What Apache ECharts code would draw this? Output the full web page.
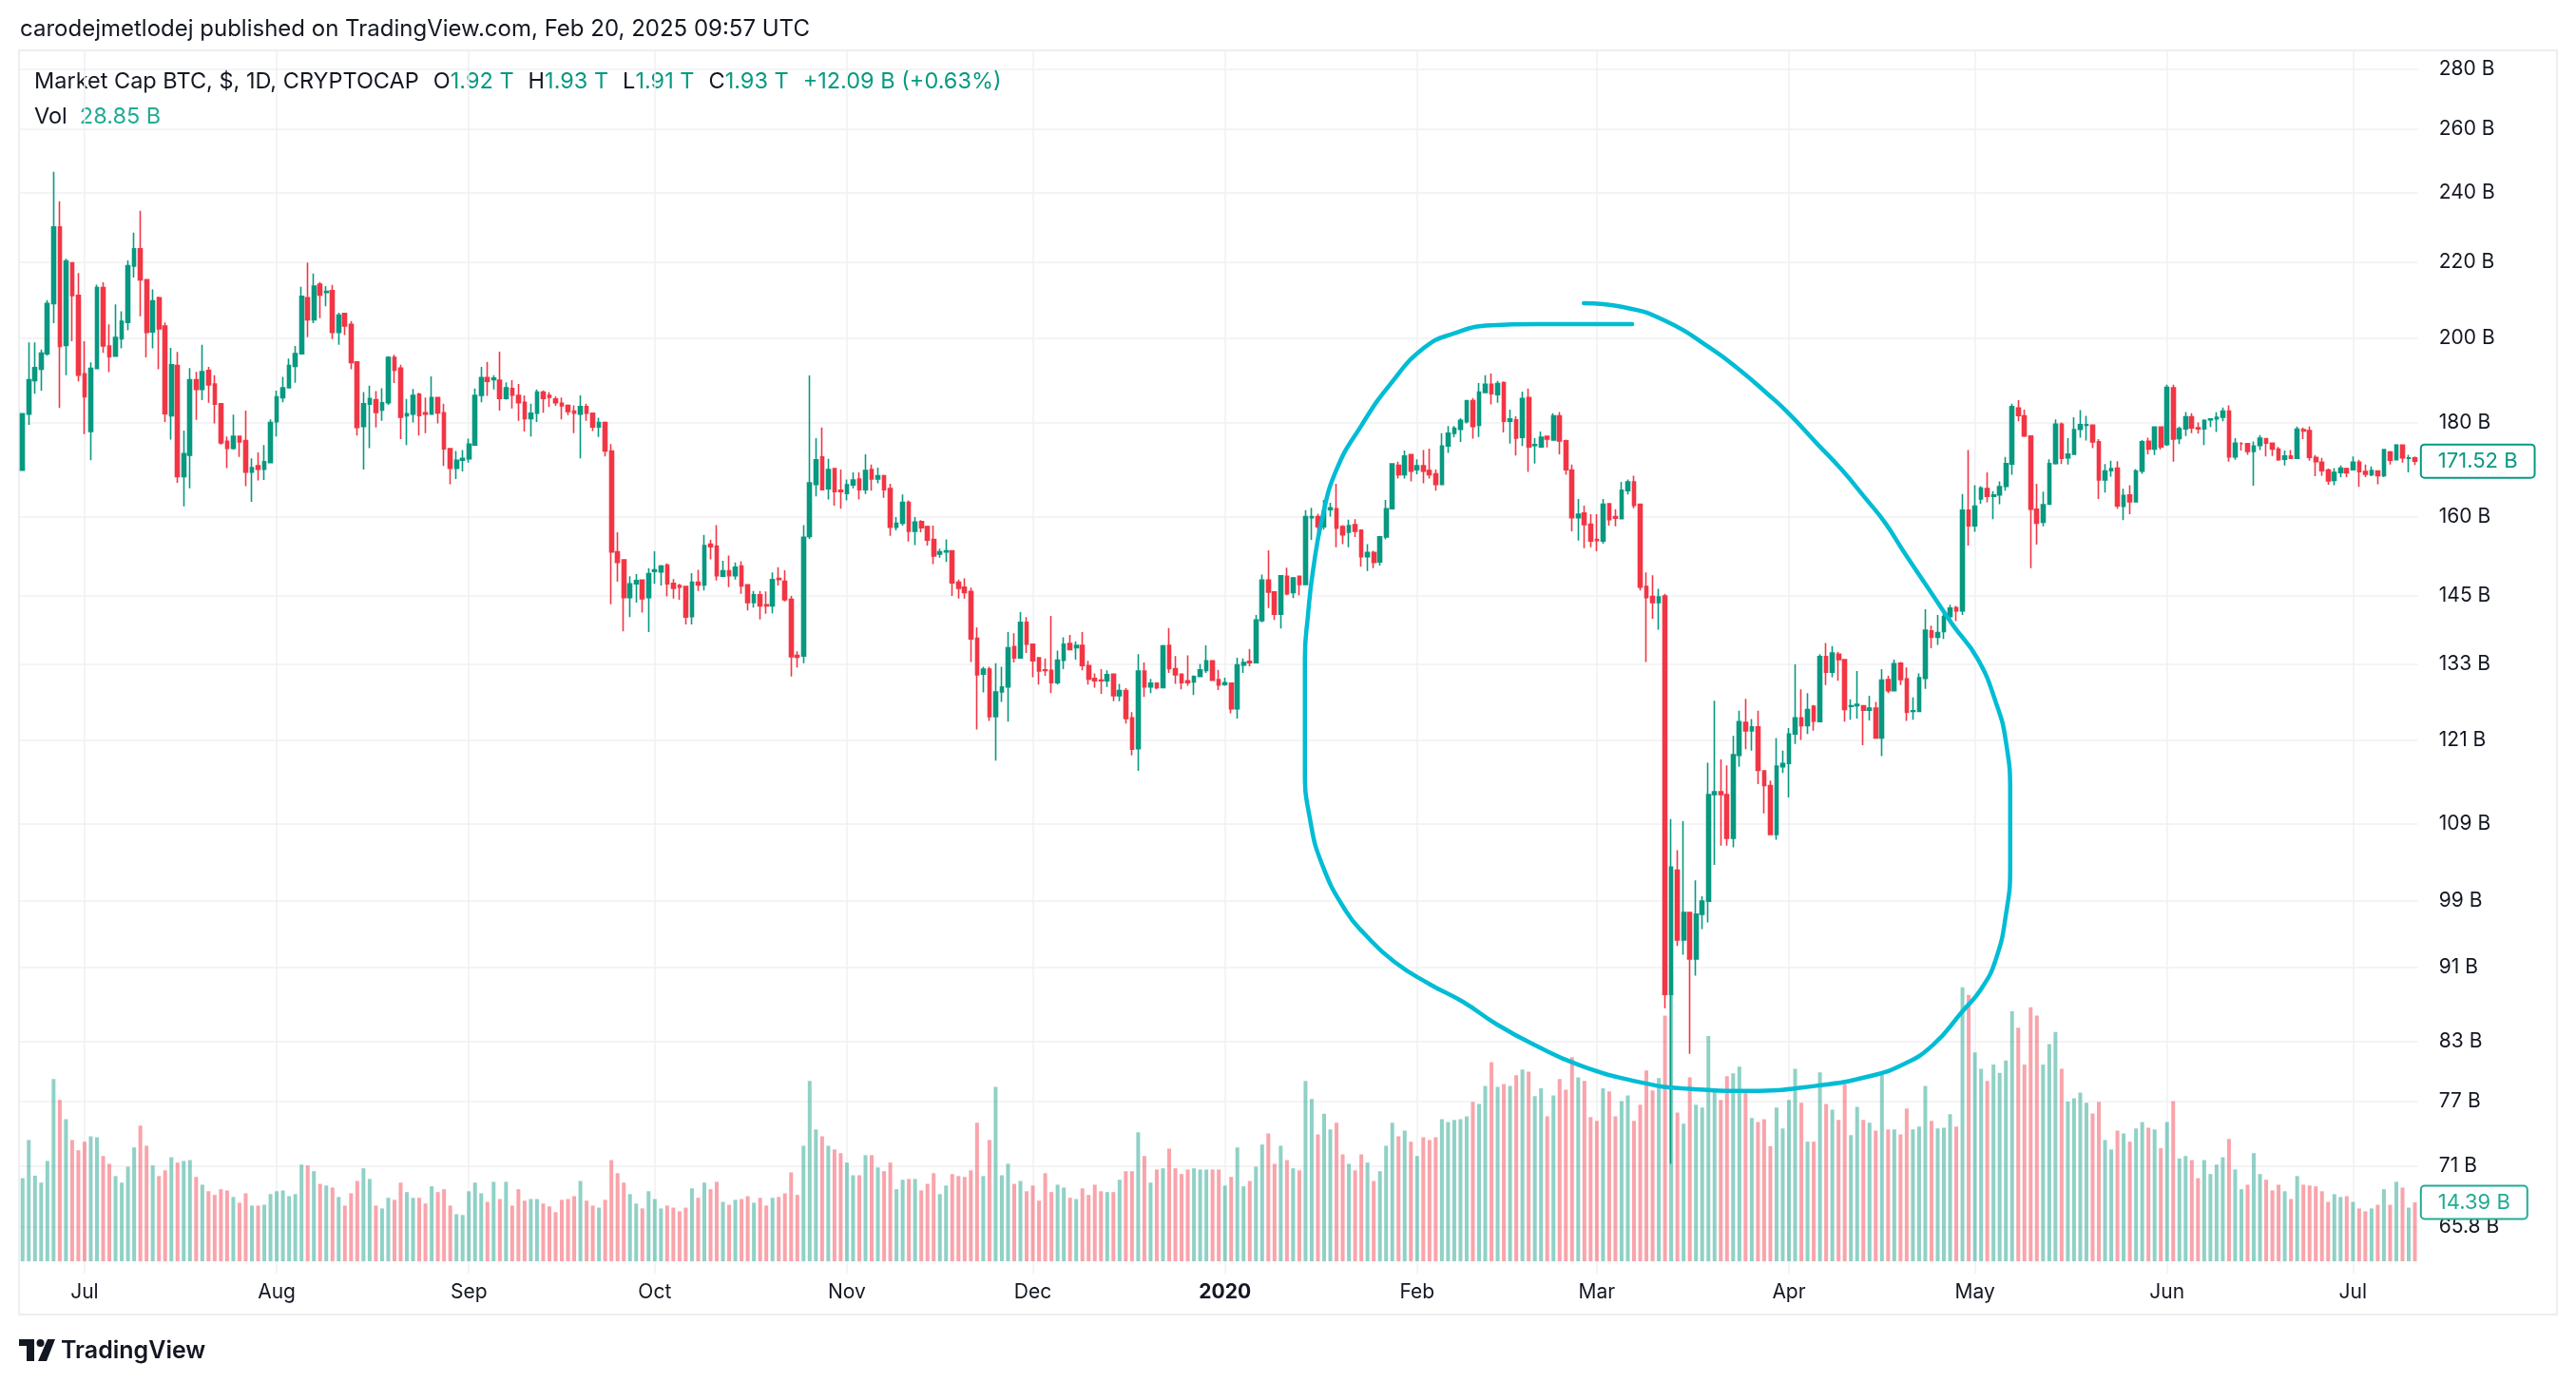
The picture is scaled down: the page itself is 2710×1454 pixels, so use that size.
<!DOCTYPE html>
<html>
<head>
<meta charset="utf-8">
<title>Market Cap BTC, 1D, CRYPTOCAP</title>
<script src="https://cdn.jsdelivr.net/npm/echarts@6/dist/echarts.min.js"></script>
<style>
  html, body { margin: 0; padding: 0; background: #ffffff; }
  #chart { width: 2710px; height: 1454px; }
</style>
</head>
<body>
<div id="chart"></div>
<script>
// daily candles, market cap in billions USD, first bar is 2019-06-21
var opens = [
  169.6, 181.9, 189.7, 192.4, 196.2, 208.9, 229.9, 198.2, 219.8, 211.0,
  191.3, 178.0, 192.6, 213.1, 198.1, 195.6, 199.9, 204.0, 218.9, 223.7,
  215.2, 201.6, 210.4, 203.1, 181.5, 193.3, 168.2, 172.8, 189.9, 187.6,
  192.1, 188.9, 184.3, 175.8, 174.3, 176.9, 176.0, 169.2, 170.5, 169.8,
  171.2, 180.2, 185.7, 188.0, 193.1, 196.2, 210.4, 204.7, 214.0, 211.8,
  212.3, 201.5, 206.3, 203.5, 194.2, 179.1, 184.2, 185.2, 182.8, 184.5,
  195.3, 192.7, 181.5, 181.9, 186.5, 182.2, 181.9, 185.7, 182.2, 174.2,
  170.0, 171.7, 172.0, 175.0, 186.2, 190.4, 189.9, 189.8, 185.5, 187.8,
  186.2, 184.6, 180.9, 182.1, 187.0, 186.2, 185.4, 184.4, 183.9, 182.6,
  181.9, 183.6, 182.1, 179.0, 180.0, 173.7, 153.1, 151.6, 144.6, 147.1,
  147.8, 144.6, 149.4, 149.3, 150.6, 147.2, 146.8, 146.6, 141.2, 147.4,
  146.9, 154.6, 154.2, 148.5, 149.5, 148.6, 150.4, 146.9, 143.7, 145.1,
  143.3, 143.1, 148.1, 147.6, 144.3, 134.5, 134.4, 156.1, 166.6, 172.4,
  165.7, 169.9, 165.4, 164.7, 166.5, 167.7, 165.5, 169.7, 167.7, 168.4,
  165.7, 157.9, 158.7, 162.9, 157.1, 159.0, 158.0, 155.5, 152.7, 153.1,
  153.3, 147.4, 146.5, 145.7, 137.4, 131.4, 132.2, 124.6, 128.5, 129.3,
  136.0, 134.1, 140.2, 136.4, 134.1, 132.1, 132.0, 130.0, 133.7, 136.5,
  135.8, 136.2, 132.8, 130.7, 130.4, 130.3, 131.4, 127.9, 128.7, 124.4,
  119.7, 131.9, 129.3, 129.9, 129.2, 136.2, 132.3, 131.4, 130.3, 130.1,
  131.0, 132.0, 133.6, 130.5, 129.7, 129.9, 125.8, 132.9, 133.5, 133.3,
  140.5, 147.8, 145.6, 141.6, 148.5, 145.5, 148.5, 147.0, 159.8, 160.0,
  158.0, 161.4, 161.6, 158.0, 156.9, 158.4, 157.3, 152.2, 153.0, 151.2,
  156.0, 161.6, 170.6, 168.6, 172.9, 169.7, 170.5, 169.5, 168.8, 166.6,
  174.8, 177.6, 178.5, 180.2, 185.0, 179.4, 186.9, 188.8, 186.4, 189.2,
  180.3, 180.6, 176.7, 185.7, 174.9, 174.6, 176.9, 176.1, 181.5, 175.9,
  169.6, 159.8, 160.7, 158.5, 155.5, 155.2, 162.6, 160.0, 159.6, 165.3,
  167.1, 162.5, 146.6, 144.8, 143.7, 144.9, 88.0, 102.8, 94.2, 97.5,
  92.0, 97.3, 98.9, 113.0, 113.4, 113.0, 107.0, 118.7, 123.7, 122.4,
  123.0, 116.4, 114.3, 107.5, 117.0, 117.5, 121.9, 124.4, 123.2, 126.2,
  123.8, 134.3, 131.7, 134.7, 133.8, 126.2, 126.3, 126.3, 125.6, 125.9,
  121.3, 130.5, 128.7, 133.2, 130.6, 125.4, 125.4, 130.7, 138.7, 137.6,
  138.6, 141.2, 142.8, 142.2, 161.3, 158.2, 163.6, 165.7, 164.1, 164.4,
  166.2, 170.9, 183.3, 181.5, 177.0, 161.5, 158.9, 162.5, 171.0, 179.6,
  172.2, 173.0, 178.5, 179.4, 179.4, 175.7, 167.5, 169.5, 170.0, 162.1,
  164.4, 163.0, 169.4, 175.8, 174.1, 179.0, 175.1, 188.0, 176.4, 178.6,
  181.3, 178.8, 178.6, 180.6, 180.8, 181.2, 182.6, 172.4, 175.3, 175.3,
  173.6, 174.9, 176.4, 175.4, 174.1, 171.9, 172.6, 172.1, 178.4, 178.2,
  172.3, 171.3, 169.6, 167.4, 169.1, 169.9, 169.7, 171.3, 169.3, 168.6,
  169.4, 168.4, 173.5, 171.8, 175.0, 172.1, 172.2
];
var highs = [
  182.1, 199.0, 199.0, 197.2, 209.8, 246.3, 237.4, 220.9, 220.0, 217.0,
  199.3, 194.1, 213.9, 214.5, 203.5, 208.7, 206.9, 220.5, 228.3, 234.6,
  215.2, 212.6, 210.7, 204.0, 197.6, 196.6, 178.2, 192.7, 191.8, 198.4,
  193.0, 191.0, 184.3, 176.9, 181.8, 176.9, 182.7, 172.1, 173.4, 175.0,
  180.7, 187.3, 190.6, 195.0, 198.1, 213.3, 219.9, 216.9, 214.6, 213.5,
  213.8, 206.5, 206.5, 204.4, 194.2, 187.0, 188.5, 187.2, 187.9, 195.6,
  195.9, 193.5, 185.4, 187.7, 186.8, 185.7, 190.7, 185.9, 184.3, 174.2,
  173.7, 173.9, 176.4, 187.8, 193.0, 194.2, 191.0, 196.7, 189.3, 189.8,
  188.9, 186.2, 184.3, 187.6, 187.4, 187.0, 186.0, 185.7, 184.1, 183.9,
  186.2, 184.3, 182.1, 181.1, 180.2, 175.2, 156.9, 151.7, 148.5, 148.9,
  147.8, 150.0, 153.2, 150.6, 150.9, 148.0, 147.1, 146.7, 149.1, 149.7,
  156.4, 155.4, 158.3, 151.4, 152.4, 151.1, 151.3, 147.0, 145.8, 145.8,
  145.7, 149.2, 150.2, 149.6, 144.9, 135.2, 158.3, 190.9, 176.5, 178.9,
  172.0, 169.9, 169.7, 167.6, 169.1, 169.1, 173.0, 170.8, 170.1, 168.6,
  166.7, 159.9, 164.5, 163.3, 159.9, 159.3, 158.2, 158.2, 153.7, 155.5,
  153.3, 147.9, 148.1, 146.4, 139.3, 132.6, 132.6, 133.2, 132.6, 138.5,
  138.3, 142.0, 141.1, 136.4, 134.1, 134.0, 141.3, 135.3, 137.6, 138.0,
  136.9, 138.5, 133.6, 131.5, 132.2, 132.0, 131.5, 129.8, 129.1, 125.3,
  134.7, 133.3, 130.6, 130.0, 136.3, 139.2, 134.4, 131.5, 134.5, 131.2,
  133.1, 136.2, 133.6, 132.1, 130.8, 129.9, 134.1, 134.0, 135.6, 141.5,
  148.8, 153.4, 145.6, 148.6, 150.1, 148.4, 148.5, 161.3, 161.8, 160.6,
  163.4, 162.8, 166.7, 158.3, 159.4, 159.5, 157.3, 154.6, 153.3, 156.2,
  163.4, 171.0, 171.4, 173.8, 173.1, 171.9, 173.9, 174.2, 169.7, 177.6,
  179.2, 179.2, 181.0, 185.1, 185.6, 189.1, 191.0, 191.4, 189.6, 189.5,
  182.9, 181.4, 187.1, 187.8, 176.5, 178.0, 177.1, 182.1, 182.4, 176.2,
  170.8, 163.6, 162.2, 160.5, 160.5, 163.6, 162.6, 161.5, 167.1, 167.6,
  168.4, 162.5, 149.2, 148.7, 146.2, 145.3, 109.6, 105.4, 109.3, 97.6,
  101.5, 99.5, 117.6, 127.1, 118.1, 117.2, 121.6, 125.5, 127.4, 124.2,
  125.5, 116.4, 115.0, 121.3, 119.4, 122.8, 133.0, 128.9, 128.3, 126.4,
  134.7, 136.6, 136.1, 135.1, 133.8, 127.3, 131.9, 126.3, 127.9, 126.9,
  132.2, 131.1, 133.8, 133.4, 132.5, 127.6, 131.5, 142.5, 139.6, 141.5,
  141.7, 143.3, 143.1, 164.6, 173.9, 166.4, 166.2, 169.1, 165.2, 167.2,
  172.4, 184.3, 185.1, 182.9, 177.0, 166.7, 165.1, 171.9, 180.7, 180.0,
  176.5, 181.2, 182.8, 181.5, 179.4, 176.3, 170.9, 171.6, 171.5, 165.7,
  166.4, 169.8, 176.1, 176.6, 179.0, 179.0, 188.7, 188.7, 179.1, 182.4,
  182.1, 180.0, 180.7, 181.0, 182.3, 183.4, 183.9, 176.5, 175.6, 175.4,
  175.8, 177.2, 176.5, 175.4, 174.6, 173.8, 173.9, 179.1, 178.9, 179.1,
  172.8, 172.2, 169.9, 170.0, 170.6, 170.1, 172.5, 171.8, 170.8, 170.4,
  169.4, 174.0, 173.7, 175.2, 175.0, 172.9, 172.5
];
var lows = [
  169.5, 179.5, 186.6, 187.3, 195.7, 203.8, 183.3, 191.0, 199.3, 189.5,
  177.4, 171.7, 192.6, 196.4, 191.7, 195.6, 197.5, 202.0, 215.8, 205.6,
  195.3, 197.5, 192.4, 180.1, 176.2, 166.9, 162.1, 165.8, 180.6, 185.1,
  184.5, 179.8, 175.1, 170.0, 174.0, 172.4, 166.2, 163.0, 167.4, 167.5,
  171.2, 176.9, 184.6, 188.0, 189.2, 196.2, 200.3, 203.8, 205.1, 208.2,
  199.8, 198.4, 200.8, 192.4, 177.1, 169.7, 174.3, 178.9, 180.4, 184.0,
  189.1, 176.3, 175.0, 180.0, 177.1, 177.6, 181.9, 179.8, 170.5, 166.6,
  167.7, 169.3, 171.2, 174.9, 184.6, 186.1, 187.6, 182.7, 185.2, 183.2,
  180.4, 178.0, 176.9, 180.1, 182.2, 183.5, 183.8, 180.7, 181.7, 177.6,
  172.1, 180.4, 178.1, 176.8, 172.5, 143.4, 147.5, 138.6, 141.1, 143.7,
  141.9, 138.5, 147.1, 146.8, 144.8, 144.4, 144.2, 139.8, 139.8, 145.8,
  145.9, 151.7, 147.7, 148.5, 146.5, 147.9, 145.3, 142.3, 142.8, 140.7,
  141.7, 141.8, 146.8, 143.9, 131.0, 132.5, 133.2, 155.6, 164.1, 165.4,
  163.5, 162.2, 161.6, 163.3, 165.8, 163.5, 164.6, 165.3, 166.8, 163.8,
  156.2, 157.3, 158.2, 155.1, 154.4, 156.9, 154.3, 150.8, 152.0, 151.2,
  144.9, 144.4, 144.4, 133.4, 122.6, 128.4, 123.9, 117.9, 126.9, 123.8,
  133.3, 134.1, 134.9, 130.9, 129.7, 131.1, 128.3, 129.7, 132.2, 135.5,
  133.8, 132.0, 129.7, 129.2, 128.2, 129.3, 127.0, 127.0, 123.5, 118.7,
  116.4, 127.7, 128.3, 128.9, 129.2, 131.6, 129.8, 128.9, 129.5, 128.0,
  131.0, 131.6, 130.3, 128.8, 129.5, 125.1, 124.3, 131.6, 132.7, 133.3,
  140.2, 142.7, 140.6, 139.1, 145.0, 144.5, 145.0, 147.0, 155.4, 155.9,
  157.4, 160.0, 154.0, 154.6, 154.0, 156.0, 150.3, 149.5, 150.0, 150.5,
  155.5, 161.5, 167.8, 167.8, 167.2, 168.7, 166.8, 167.8, 165.3, 166.5,
  173.3, 176.7, 175.7, 179.8, 176.4, 176.8, 186.8, 184.1, 184.5, 177.8,
  175.3, 172.7, 174.8, 169.2, 171.0, 174.4, 174.5, 176.1, 173.0, 168.6,
  157.1, 155.3, 153.8, 154.0, 153.2, 154.7, 158.2, 158.1, 159.6, 164.5,
  161.7, 145.9, 133.4, 140.8, 138.9, 86.5, 71.2, 93.5, 92.5, 81.7,
  90.1, 95.5, 96.3, 103.5, 106.0, 106.0, 105.8, 117.0, 119.6, 119.4,
  114.5, 110.4, 107.4, 106.8, 116.1, 112.6, 120.4, 121.0, 121.9, 122.4,
  123.8, 129.6, 130.9, 130.3, 123.8, 124.1, 124.3, 120.2, 124.0, 121.2,
  118.6, 128.3, 128.7, 129.6, 123.9, 124.1, 125.3, 129.0, 135.7, 136.3,
  137.3, 140.1, 140.4, 141.5, 154.3, 157.0, 162.6, 162.9, 159.5, 162.5,
  165.3, 168.6, 180.3, 176.8, 150.0, 154.5, 158.1, 162.5, 170.8, 170.9,
  170.8, 173.0, 176.6, 176.0, 174.3, 163.6, 164.9, 168.2, 161.6, 159.3,
  160.5, 163.0, 168.8, 173.0, 172.8, 174.0, 174.8, 171.4, 175.2, 177.0,
  177.6, 177.5, 175.0, 179.0, 177.9, 180.3, 171.4, 171.8, 173.8, 172.9,
  166.3, 173.9, 172.5, 172.6, 171.6, 170.6, 172.1, 172.0, 176.3, 171.6,
  168.3, 168.4, 166.5, 166.4, 168.1, 168.1, 169.5, 166.1, 168.1, 168.3,
  166.6, 168.1, 170.8, 171.7, 171.2, 169.1, 170.7
];
var closes = [
  182.0, 189.9, 192.8, 196.3, 208.9, 229.9, 198.0, 220.3, 211.0, 191.0,
  185.9, 192.6, 213.1, 198.1, 195.5, 200.2, 204.3, 219.0, 223.7, 215.2,
  201.5, 209.6, 202.4, 182.0, 193.5, 168.2, 173.1, 189.9, 187.6, 191.8,
  188.7, 184.2, 175.5, 174.3, 176.9, 175.7, 169.2, 170.1, 169.8, 171.4,
  180.0, 185.9, 188.0, 193.3, 196.2, 210.8, 204.7, 213.5, 211.1, 212.1,
  201.5, 205.9, 203.1, 194.0, 178.9, 184.3, 185.5, 182.3, 184.5, 195.3,
  192.2, 181.2, 182.0, 186.2, 181.6, 181.9, 185.7, 182.2, 174.2, 170.0,
  171.7, 172.1, 175.2, 186.2, 190.4, 189.5, 190.3, 185.5, 188.0, 186.3,
  184.5, 180.9, 182.1, 187.0, 185.5, 185.8, 184.5, 183.8, 182.5, 182.1,
  183.6, 182.1, 179.0, 180.0, 173.7, 153.1, 151.1, 144.6, 147.1, 147.7,
  144.4, 149.0, 149.7, 150.4, 147.1, 146.3, 146.5, 141.1, 147.4, 146.9,
  154.3, 154.1, 148.6, 149.5, 148.6, 150.2, 146.7, 143.7, 145.1, 143.1,
  143.1, 147.9, 147.9, 144.2, 134.3, 134.2, 155.9, 166.9, 171.8, 165.5,
  169.7, 165.1, 165.1, 166.5, 167.5, 165.5, 169.5, 167.7, 168.4, 165.5,
  157.9, 158.7, 162.9, 157.1, 158.9, 157.8, 155.4, 152.3, 153.1, 153.3,
  147.3, 146.3, 145.5, 137.3, 131.3, 132.2, 124.6, 128.5, 129.3, 135.8,
  134.1, 140.2, 136.4, 133.6, 131.9, 132.0, 130.0, 133.7, 136.4, 135.5,
  136.2, 132.8, 130.6, 130.3, 130.3, 131.3, 127.9, 128.7, 124.3, 119.6,
  131.9, 129.3, 129.9, 129.2, 136.1, 132.3, 131.3, 130.0, 130.0, 131.0,
  132.1, 133.6, 130.4, 129.6, 130.0, 125.8, 132.9, 133.3, 133.3, 140.6,
  147.8, 145.6, 141.6, 148.6, 145.3, 148.2, 147.0, 160.0, 160.0, 158.0,
  161.4, 161.8, 157.7, 156.4, 158.2, 157.1, 152.2, 153.0, 151.1, 156.0,
  161.6, 170.9, 168.6, 172.6, 169.4, 170.5, 169.4, 168.6, 166.6, 174.8,
  177.6, 178.7, 180.5, 185.0, 179.1, 187.0, 188.8, 186.6, 189.0, 180.3,
  180.8, 176.5, 185.5, 174.6, 175.1, 176.7, 176.3, 181.5, 175.9, 169.7,
  159.8, 160.5, 158.4, 155.2, 155.3, 162.5, 159.4, 159.7, 165.4, 167.1,
  162.3, 146.5, 144.6, 143.7, 144.7, 88.0, 103.2, 94.2, 97.5, 92.0,
  97.3, 98.9, 113.0, 113.4, 113.0, 107.0, 118.8, 123.8, 122.4, 123.0,
  116.5, 114.3, 107.5, 117.1, 117.5, 121.9, 124.4, 123.2, 125.7, 123.9,
  134.3, 131.7, 134.9, 133.8, 125.7, 126.3, 126.5, 125.6, 125.9, 121.3,
  130.4, 128.7, 133.1, 130.5, 125.3, 125.5, 130.8, 138.8, 137.6, 138.4,
  141.2, 142.7, 142.2, 161.3, 158.2, 162.1, 165.8, 164.1, 164.4, 166.1,
  171.0, 183.6, 181.6, 177.0, 161.5, 158.7, 162.4, 171.0, 179.6, 172.1,
  173.0, 178.4, 179.5, 179.5, 175.7, 167.5, 169.4, 169.9, 162.2, 164.3,
  163.0, 169.4, 175.7, 174.1, 179.0, 174.6, 188.1, 176.3, 178.6, 181.3,
  178.8, 178.6, 180.5, 180.8, 181.2, 182.6, 172.4, 175.4, 175.3, 173.6,
  174.8, 176.5, 175.4, 174.1, 171.8, 172.6, 172.1, 178.5, 178.1, 172.3,
  171.4, 169.5, 167.3, 169.1, 170.0, 169.0, 171.3, 169.3, 168.7, 169.5,
  168.4, 174.0, 171.7, 175.0, 172.2, 172.2, 171.52
];
var volumes = [
  20.3, 29.6, 20.9, 19.2, 24.5, 44.5, 39.4, 34.7, 29.6, 27.1,
  29.2, 30.5, 30.3, 25.7, 23.8, 20.8, 19.2, 23.1, 27.8, 33.1,
  28.2, 23.4, 20.8, 22.2, 25.4, 24.1, 24.5, 24.7, 20.6, 18.7,
  17.1, 16.2, 17.6, 17.3, 15.7, 14.3, 16.6, 13.6, 13.6, 13.8,
  16.4, 17.1, 17.3, 15.9, 16.4, 23.6, 23.4, 22.0, 18.9, 18.5,
  18.0, 15.7, 13.6, 16.6, 19.6, 22.7, 20.1, 13.6, 12.9, 15.5,
  15.0, 19.2, 16.9, 15.5, 15.5, 14.1, 18.3, 16.9, 17.6, 13.6,
  11.5, 11.3, 17.1, 19.2, 16.6, 14.5, 19.4, 15.2, 19.4, 13.6,
  17.6, 14.8, 15.2, 15.2, 14.1, 13.4, 12.0, 15.0, 15.2, 15.9,
  19.6, 14.8, 13.6, 13.1, 15.0, 24.7, 21.5, 19.2, 16.4, 14.1,
  12.9, 17.1, 15.2, 12.9, 13.6, 13.1, 12.2, 13.1, 17.8, 15.5,
  19.2, 17.6, 19.4, 14.5, 13.8, 15.0, 15.2, 15.9, 14.3, 15.5,
  13.6, 15.5, 15.7, 16.6, 21.7, 16.2, 28.2, 44.0, 32.2, 30.5,
  28.2, 27.3, 26.4, 24.1, 21.0, 21.0, 25.9, 25.9, 22.9, 22.0,
  24.1, 17.6, 19.9, 20.1, 20.1, 17.3, 18.9, 21.5, 16.4, 18.5,
  21.3, 20.8, 20.6, 22.2, 33.8, 20.8, 29.6, 42.6, 21.0, 23.8,
  18.9, 19.6, 17.1, 18.5, 14.8, 21.5, 16.9, 18.7, 18.0, 15.5,
  15.2, 17.8, 16.2, 18.7, 17.1, 16.9, 16.9, 19.9, 22.0, 22.0,
  31.5, 25.7, 19.2, 22.4, 22.7, 27.5, 22.7, 21.3, 22.4, 22.7,
  22.4, 22.4, 22.4, 22.4, 18.5, 20.6, 27.8, 18.3, 19.6, 23.1,
  28.5, 31.2, 23.8, 28.2, 24.7, 22.7, 22.2, 44.0, 39.6, 31.0,
  36.0, 32.2, 33.8, 26.1, 23.8, 22.2, 26.1, 24.1, 19.6, 22.0,
  28.2, 33.8, 30.5, 31.9, 29.2, 25.7, 30.3, 29.6, 30.3, 34.7,
  34.0, 34.5, 34.7, 35.4, 38.9, 38.4, 42.8, 48.6, 42.6, 43.3,
  42.8, 45.4, 46.8, 46.3, 40.3, 42.2, 35.4, 40.5, 44.5, 41.9,
  49.8, 44.9, 44.0, 35.2, 34.3, 42.2, 41.5, 35.4, 39.1, 40.5,
  34.3, 38.2, 46.6, 41.7, 44.7, 60.0, 70.0, 36.3, 33.6, 44.9,
  38.2, 37.5, 55.0, 42.2, 39.4, 45.2, 45.9, 47.5, 41.7, 35.0,
  34.0, 34.7, 28.1, 37.5, 32.4, 39.4, 47.0, 38.7, 29.2, 29.2,
  46.1, 38.4, 37.0, 34.5, 43.3, 30.8, 37.7, 34.5, 33.8, 31.9,
  45.5, 32.2, 32.2, 31.0, 37.3, 32.2, 32.9, 42.8, 34.3, 32.4,
  32.6, 35.9, 32.9, 66.9, 65.0, 51.0, 47.0, 44.0, 48.0, 46.0,
  49.0, 61.0, 57.0, 48.0, 62.0, 60.0, 48.0, 53.0, 56.0, 47.0,
  39.0, 39.8, 41.2, 38.7, 36.1, 38.9, 29.6, 27.3, 31.9, 31.2,
  29.2, 32.4, 34.0, 32.6, 32.2, 27.6, 34.0, 39.1, 25.1, 25.7,
  24.7, 20.3, 24.7, 21.3, 23.6, 25.4, 29.9, 22.4, 17.6, 18.7,
  26.4, 21.3, 19.9, 17.3, 18.7, 17.1, 15.2, 20.8, 18.7, 18.5,
  18.3, 17.1, 14.5, 16.4, 15.7, 15.9, 14.5, 12.9, 12.2, 12.9,
  13.8, 17.6, 13.8, 19.4, 18.0, 13.1, 14.39
];
// price scale labels shown on the right
var priceTicks = [280, 260, 240, 220, 200, 180, 160, 145, 133, 121, 109, 99, 91, 83, 77, 71, 65.8];
// hand drawn loop: position in bars from the first candle, and level in billions
var loopBars = [
  259.7, 244.0, 237.0, 230.9, 226.1, 220.6, 216.0, 212.0, 209.7, 208.2,
  207.4, 206.9, 206.9, 207.7, 209.7, 213.5, 216.7, 221.3, 226.9, 232.4,
  237.8, 244.0, 251.0, 260.6, 268.9, 278.6, 289.4, 297.7, 303.3, 308.2,
  312.9, 316.1, 318.4, 320.0, 320.7, 320.7, 320.0, 318.4, 315.4, 311.4,
  308.3, 303.6, 300.5, 297.3, 293.5, 289.4, 284.8, 281.6, 277.0, 272.3,
  265.2, 258.2, 251.9
];
var loopLevels = [
  203.6, 203.6, 203.3, 201.2, 197.6, 188.7, 179.3, 169.7, 159.7, 149.5,
  141.5, 134.0, 116.6, 109.7, 103.5, 97.7, 94.8, 91.7, 89.2, 87.2,
  84.8, 82.6, 80.6, 78.9, 78.2, 78.0, 78.5, 79.4, 80.6, 82.6,
  86.1, 88.7, 92.0, 97.2, 103.3, 113.0, 120.8, 126.8, 134.0, 139.8,
  144.9, 153.0, 158.8, 163.8, 169.7, 175.5, 182.3, 186.5, 192.3, 197.6,
  204.3, 208.0, 209.0
];

(function () {
  var fontFamily = 'Inter, Roboto, "Noto Sans", sans-serif';
  var textColor = '#131722';
  var upColor = '#089981';
  var downColor = '#f23645';
  var upVolume = 'rgba(8, 153, 129, 0.45)';
  var downVolume = 'rgba(242, 54, 69, 0.45)';
  var gridColor = '#f0f1f4';
  var monthNames = ['Jan', 'Feb', 'Mar', 'Apr', 'May', 'Jun', 'Jul', 'Aug', 'Sep', 'Oct', 'Nov', 'Dec'];

  var dates = [];
  for (var i = 0; i < closes.length; i++) {
    dates.push(new Date(Date.UTC(2019, 5, 21 + i)).toISOString().slice(0, 10));
  }
  function isMonthStart(value) { return value.slice(8, 10) === '01'; }

  var gridLines = priceTicks.map(function (tick) {
    return { yAxis: tick, label: { formatter: tick + ' B' } };
  });
  dates.forEach(function (date) {
    if (isMonthStart(date)) gridLines.push({ xAxis: date, label: { show: false } });
  });

  var candles = dates.map(function (date, index) {
    return [opens[index], closes[index], lows[index], highs[index]];
  });
  var volumeBars = volumes.map(function (value, index) {
    return { value: value, itemStyle: { color: closes[index] >= opens[index] ? upVolume : downVolume } };
  });
  var loop = loopBars.map(function (bar, index) { return [bar, loopLevels[index]]; });
  var last = closes.length - 1;

  // boxed value tag on the price scale, as TradingView draws the last value
  function valueTag(color) {
    return {
      silent: true,
      z: 10,
      symbol: ['none', 'none'],
      animation: false,
      lineStyle: { color: 'rgba(255,255,255,0)', width: 1, type: 'solid' },
      emphasis: { disabled: true },
      label: {
        show: true,
        position: 'end',
        distance: 4,
        formatter: function (p) { return Number(p.value).toFixed(2) + ' B'; },
        color: color,
        backgroundColor: '#ffffff',
        borderColor: color,
        borderWidth: 2,
        borderRadius: 3,
        padding: [6, 17, 5, 17],
        fontSize: 22,
        fontFamily: fontFamily
      }
    };
  }
  var priceTag = valueTag(upColor);
  priceTag.data = [{ yAxis: closes[last] }];
  var volumeTag = valueTag('#22ab94');
  volumeTag.data = [{ yAxis: volumes[last] }];

  var chart = echarts.init(document.getElementById('chart'), null, { renderer: 'canvas' });
  chart.setOption({
    animation: false,
    backgroundColor: '#ffffff',
    textStyle: { fontFamily: fontFamily },
    grid: [
      { left: 20.5, right: 166.2, top: 53, bottom: 114 },
      { left: 20.5, right: 166.2, top: 1000, bottom: 127 }
    ],
    xAxis: [
      {
        type: 'category',
        gridIndex: 0,
        data: dates,
        boundaryGap: true,
        axisLine: { show: false },
        axisTick: { show: false },
        splitLine: { show: false },
        axisLabel: {
          interval: function (index, value) { return isMonthStart(value); },
          formatter: function (value) {
            var month = Number(value.slice(5, 7));
            if (month === 1) return '{year|' + value.slice(0, 4) + '}';
            return monthNames[month - 1];
          },
          color: textColor,
          fontSize: 21,
          fontFamily: fontFamily,
          margin: 9,
          rich: { year: { fontWeight: 'bold', fontSize: 21, color: textColor, fontFamily: fontFamily } }
        }
      },
      { type: 'category', gridIndex: 1, data: dates, boundaryGap: true, show: false },
      { type: 'value', gridIndex: 0, min: -0.5, max: dates.length - 0.5, show: false }
    ],
    yAxis: [
      { type: 'log', gridIndex: 0, min: 62.06, max: 286.74, show: false },
      { type: 'value', gridIndex: 1, min: 0, max: 75.87, show: false }
    ],
    series: [
      {
        name: 'grid',
        type: 'line',
        xAxisIndex: 0,
        yAxisIndex: 0,
        data: [],
        silent: true,
        z: 0,
        markLine: {
          silent: true,
          z: 0,
          symbol: ['none', 'none'],
          animation: false,
          lineStyle: { color: gridColor, width: 1.5, type: 'solid' },
          emphasis: { disabled: true },
          label: { position: 'end', distance: 22, color: textColor, fontSize: 21, fontFamily: fontFamily },
          data: gridLines
        }
      },
      {
        name: 'Volume',
        type: 'bar',
        xAxisIndex: 1,
        yAxisIndex: 1,
        barWidth: 4,
        z: 1,
        silent: true,
        data: volumeBars,
        markLine: volumeTag
      },
      {
        name: 'Market Cap BTC',
        type: 'candlestick',
        xAxisIndex: 0,
        yAxisIndex: 0,
        barWidth: 4.2,
        z: 3,
        silent: true,
        data: candles,
        itemStyle: {
          color: upColor,
          color0: downColor,
          borderColor: upColor,
          borderColor0: downColor,
          borderWidth: 1.6
        },
        markLine: priceTag
      },
      {
        name: 'drawing',
        type: 'line',
        xAxisIndex: 2,
        yAxisIndex: 0,
        data: loop,
        smooth: true,
        symbol: 'none',
        silent: true,
        z: 20,
        lineStyle: { color: '#00bcd4', width: 4.5, cap: 'round', join: 'round' }
      }
    ],
    graphic: [
      {
        type: 'rect',
        silent: true,
        z: 0,
        shape: { x: 20, y: 53, width: 2670, height: 1330 },
        style: { fill: 'none', stroke: '#eceef1', lineWidth: 2 }
      },
      {
        type: 'text',
        x: 21,
        y: 31,
        silent: true,
        style: {
          text: 'carodejmetlodej published on TradingView.com, Feb 20, 2025 09:57 UTC',
          font: '24px ' + fontFamily,
          fill: textColor,
          verticalAlign: 'middle'
        }
      },
      {
        type: 'text',
        x: 36,
        y: 86,
        silent: true,
        style: {
          text: '{t|Market Cap BTC, $, 1D, CRYPTOCAP}{s| }{t|O}{g|1.92 T}{s| }{t|H}{g|1.93 T}{s| }{t|L}{g|1.91 T}{s| }{t|C}{g|1.93 T}{s| }{g|+12.09 B (+0.63%)}',
          verticalAlign: 'middle',
          rich: {
            t: { fill: textColor, fontSize: 23.5, fontFamily: fontFamily },
            g: { fill: upColor, fontSize: 23.5, fontFamily: fontFamily },
            s: { fontSize: 23.5, fontFamily: fontFamily, width: 15 }
          }
        }
      },
      {
        type: 'text',
        x: 36,
        y: 123,
        silent: true,
        style: {
          text: '{t|Vol}{s| }{v|28.85 B}',
          verticalAlign: 'middle',
          rich: {
            t: { fill: textColor, fontSize: 23.5, fontFamily: fontFamily },
            v: { fill: '#22ab94', fontSize: 23.5, fontFamily: fontFamily },
            s: { fontSize: 23.5, fontFamily: fontFamily, width: 13 }
          }
        }
      },
      {
        type: 'group',
        silent: true,
        children: [
          { type: 'polygon', shape: { points: [[20, 1409], [36, 1409], [36, 1432], [28, 1432], [28, 1416], [20, 1416]] }, style: { fill: textColor } },
          { type: 'circle', shape: { cx: 42.5, cy: 1413, r: 4 }, style: { fill: textColor } },
          { type: 'polygon', shape: { points: [[50, 1409], [58, 1409], [49, 1432], [40, 1432]] }, style: { fill: textColor } }
        ]
      },
      {
        type: 'text',
        x: 64,
        y: 1421,
        silent: true,
        style: {
          text: 'TradingView',
          font: '600 25px ' + fontFamily,
          fill: textColor,
          verticalAlign: 'middle'
        }
      }
    ]
  });

  window.addEventListener('resize', function () { chart.resize(); });
})();
</script>
</body>
</html>
